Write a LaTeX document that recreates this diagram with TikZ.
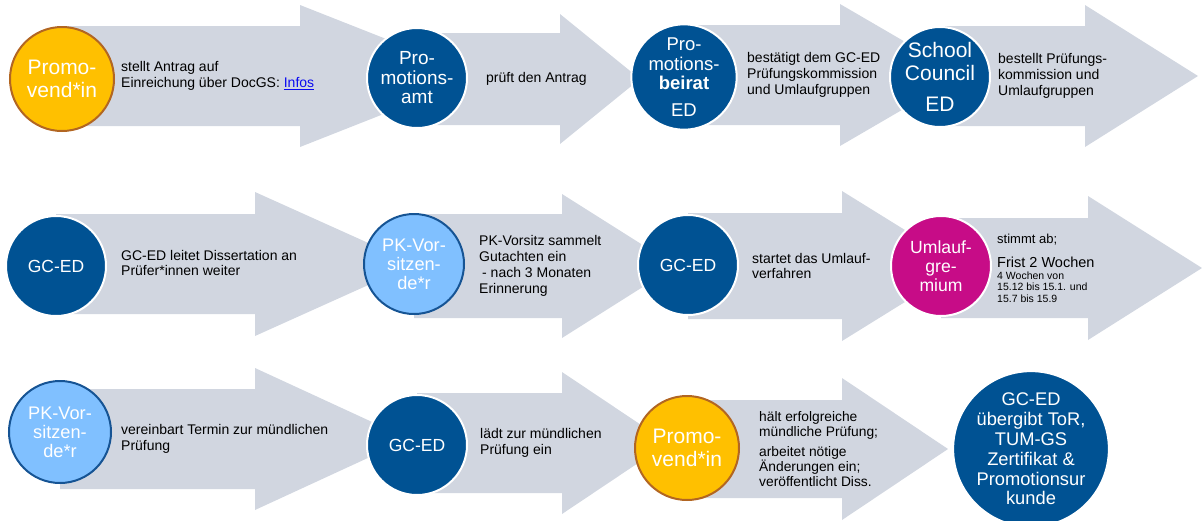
\documentclass[tikz,border=0pt]{standalone}
\usepackage{fontspec}
\setmainfont{Liberation Sans}
\usetikzlibrary{positioning, backgrounds, calc}
\definecolor{tumblue}{RGB}{0,82,147}
\definecolor{promoyellow}{RGB}{255,192,0}
\definecolor{promoedge}{RGB}{178,102,34}
\definecolor{pklight}{RGB}{128,192,255}
\definecolor{pkedge}{RGB}{22,84,148}
\definecolor{umlaufpink}{RGB}{199,12,135}
\definecolor{flowgray}{RGB}{209,214,224}
\definecolor{linkblue}{RGB}{10,10,240}

\begin{document}
\begin{tikzpicture}[x=1pt, y=-1pt,
    stage/.style={circle, inner sep=0pt, align=center, text=white, line width=2pt},
    bluestage/.style={stage, fill=tumblue, draw=white},
    yellowstage/.style={stage, fill=promoyellow, draw=promoedge},
    lightstage/.style={stage, fill=pklight, draw=pkedge},
    pinkstage/.style={stage, fill=umlaufpink, draw=white},
    flow/.style={fill=flowgray},
    desc/.style={anchor=west, align=left, inner sep=0pt, font=\fontsize{14}{15.8}\selectfont}]
    \useasboundingbox (0,0) rectangle (1202,520);

    % First row: application
    \node[yellowstage, minimum size=104pt, font=\fontsize{21}{22.5}\selectfont] (prom1) at (62,79) {Promo-\\vend*in};
    \node[bluestage, minimum size=100pt, font=\fontsize{19}{19.5}\selectfont] (pamt) at (417,78) {Pro-\\motions-\\amt};
    \node[bluestage, minimum size=98pt, font=\fontsize{18.5}{19.5}\selectfont] (pbeirat) at (684,77) {Pro-\\motions-\\\textbf{beirat}\\[7pt]ED};
    \node[bluestage, minimum size=100pt, font=\fontsize{21}{23}\selectfont] (council) at (940,77) {School\\Council\\[8pt]ED};

    % Second row: review and vote
    \node[bluestage, minimum size=100pt, font=\fontsize{17.5}{19}\selectfont] (gced1) at (56,266) {GC-ED};
    \node[lightstage, minimum size=100pt, font=\fontsize{18.2}{19}\selectfont] (pkvors1) at (414,264) {PK-Vor-\\sitzen-\\de*r};
    \node[bluestage, minimum size=100pt, font=\fontsize{17.5}{19}\selectfont] (gced2) at (688,265) {GC-ED};
    \node[pinkstage, minimum size=100pt, font=\fontsize{17.6}{19}\selectfont] (umlauf) at (941,266) {Umlauf-\\gre-\\mium};

    % Third row: oral exam
    \node[lightstage, minimum size=102pt, font=\fontsize{18.2}{19}\selectfont] (pkvors2) at (60,432) {PK-Vor-\\sitzen-\\de*r};
    \node[bluestage, minimum size=100pt, font=\fontsize{17.5}{19}\selectfont] (gced3) at (417,445) {GC-ED};
    \node[yellowstage, minimum size=104pt, font=\fontsize{21}{22.5}\selectfont] (prom2) at (687,448) {Promo-\\vend*in};
    \node[bluestage, minimum size=146pt, font=\fontsize{18.3}{19.8}\selectfont] (final) at (1031,449) {GC-ED\\übergibt ToR,\\TUM-GS\\Zertifikat \&\\Promotionsur\\kunde};

    % Gray arrows behind the circles, starting at each circle's centre
    \begin{scope}[on background layer]
      \foreach \src/\cy/\bh/\hx/\hh/\tx in {prom1/76/50/300/71/480, pamt/79/46/560/65/640,
          pbeirat/75/50/840/71/962, council/76/50/1085/71/1198,
          gced1/264/50/255/72/415, pkvors1/266/52/562/72/676,
          gced2/266/53/842/75/963, umlauf/268/50/1088/72/1202,
          pkvors2/439/50/255/71/409, gced3/443/50/562/71/668,
          prom2/449/49/842/71/948} {
        \pgfmathsetmacro\btop{\cy-\bh}
        \pgfmathsetmacro\bbot{\cy+\bh}
        \pgfmathsetmacro\htop{\cy-\hh}
        \pgfmathsetmacro\hbot{\cy+\hh}
        \fill[flow] (\src.center |- 0,\btop) -- (\hx,\btop) -- (\hx,\htop) -- (\tx,\cy)
          -- (\hx,\hbot) -- (\hx,\bbot) -- (\src.center |- 0,\bbot) -- cycle;
      }
    \end{scope}

    % Step descriptions on the arrows
    \node[desc] (d1) at (121,76) {stellt Antrag auf\\Einreichung über DocGS: \textcolor{linkblue}{\underline{Infos}}};
    \node[desc] (d2) at (486,79) {prüft den Antrag};
    \node[desc] (d3) at (747,75) {bestätigt dem GC-ED\\Prüfungskommission\\und Umlaufgruppen};
    \node[desc] (d4) at (998,76) {bestellt Prüfungs-\\kommission und\\Umlaufgruppen};
    \node[desc] (d5) at (121,263) {GC-ED leitet Dissertation an\\Prüfer*innen weiter};
    \node[desc] (d6) at (479,266) {PK-Vorsitz sammelt\\Gutachten ein\\\hspace*{3pt}- nach 3 Monaten\\Erinnerung};
    \node[desc] (d7) at (752,266) {startet das Umlauf-\\verfahren};
    \node[desc, font=\fontsize{13}{14}\selectfont] (d8a) at (997,240) {stimmt ab;};
    \node[desc, font=\fontsize{14.5}{16}\selectfont] (d8b) at (997,262) {Frist 2 Wochen};
    \node[desc, font=\fontsize{10.5}{11.5}\selectfont] (d8c) at (997,287) {4 Wochen von\\15.12 bis 15.1. und\\15.7 bis 15.9};
    \node[desc] (d9) at (121,439) {vereinbart Termin zur mündlichen\\Prüfung};
    \node[desc] (d10) at (480,443) {lädt zur mündlichen\\Prüfung ein};
    \node[desc, font=\fontsize{13.8}{15.2}\selectfont] (d11) at (759,449) {hält erfolgreiche\\mündliche Prüfung;\\[5pt]arbeitet nötige\\Änderungen ein;\\veröffentlicht Diss.};
\end{tikzpicture}
\end{document}
